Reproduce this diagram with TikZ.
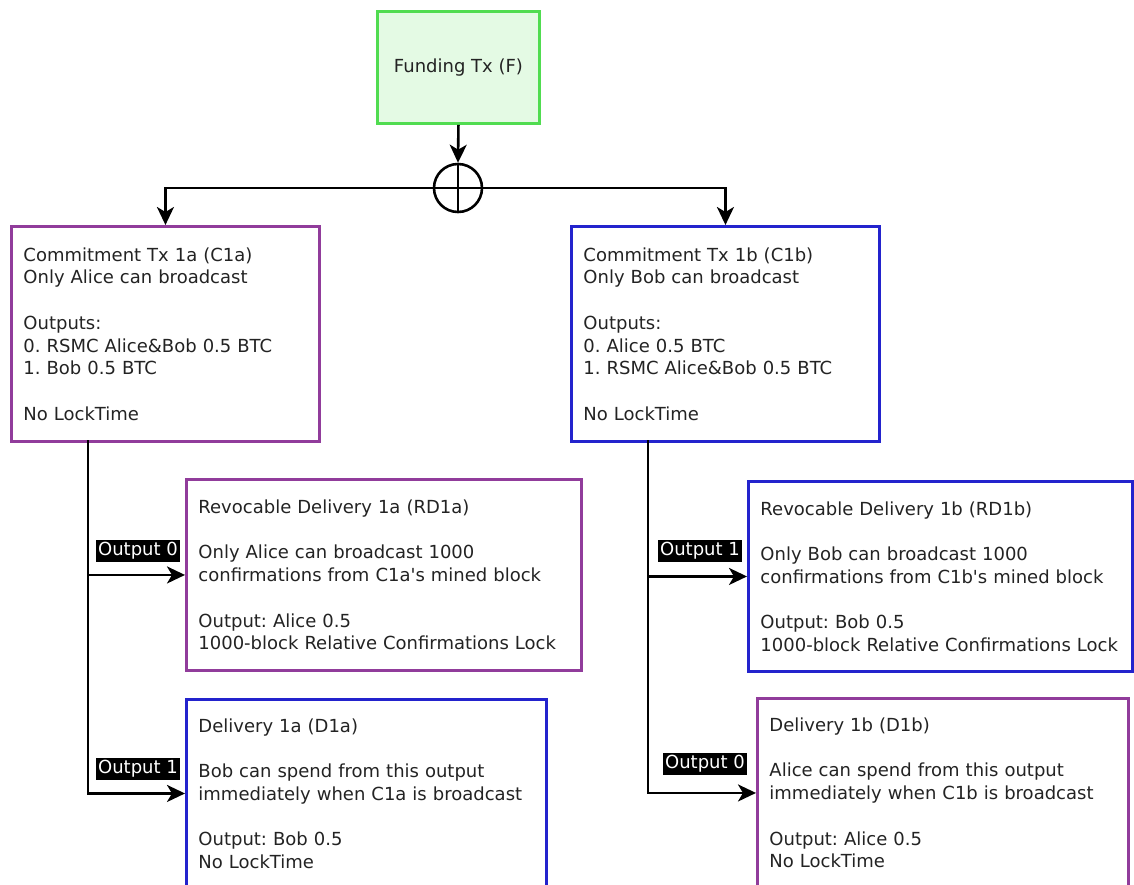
\documentclass[tikz,border=0pt]{standalone}
\usepackage{fontspec}
\setmainfont{DejaVu Sans}[Ligatures=TeXOff]
\usetikzlibrary{arrows.meta}
\definecolor{boxpurple}{RGB}{145,60,155}
\definecolor{boxblue}{RGB}{35,35,205}
\definecolor{fundgreen}{RGB}{80,220,80}
\definecolor{fundfill}{RGB}{228,250,228}
\definecolor{inkgray}{RGB}{35,35,35}
\frenchspacing
\begin{document}
\begin{tikzpicture}[x=1pt,y=-1pt,
  txfont/.style={font=\fontsize{18}{22.7}\selectfont\frenchspacing},
  txbox/.style={txfont,draw,line width=2.9pt,anchor=north west,align=left,
    inner xsep=12pt,inner ysep=4pt,text=inkgray,fill=white},
  purplebox/.style={txbox,draw=boxpurple},
  bluebox/.style={txbox,draw=boxblue},
  outlabel/.style={txfont,fill=black,text=white,inner xsep=2pt,inner ysep=2pt},
  conn/.style={line width=2.6pt,-{Stealth[length=18pt,width=17pt,inset=5pt]}},
  plainconn/.style={line width=2.6pt}]
\useasboundingbox (0,0) rectangle (1134,884);
\fill[white] (0,0) rectangle (1134,884);

% funding transaction and the 2-of-2 split
\node[txfont,draw=fundgreen,fill=fundfill,line width=2.9pt,text=inkgray,
  minimum width=162pt,minimum height=112pt,anchor=north west] (F) at (376,10) {Funding Tx (F)};
\node[circle,draw,line width=2.6pt,minimum size=48pt,inner sep=0pt] (X) at (458,188) {};

% commitment transactions
\node[purplebox,text width=284pt,minimum width=308pt,minimum height=215pt] (C1a) at (10,225)
 {Commitment Tx 1a (C1a)\\Only Alice can broadcast\\ \mbox{}\\Outputs:\\0. RSMC Alice\&Bob 0.5 BTC\\1. Bob 0.5 BTC\\ \mbox{}\\No LockTime};
\node[bluebox,text width=284pt,minimum width=308pt,minimum height=215pt] (C1b) at (570,225)
 {Commitment Tx 1b (C1b)\\Only Bob can broadcast\\ \mbox{}\\Outputs:\\0. Alice 0.5 BTC\\1. RSMC Alice\&Bob 0.5 BTC\\ \mbox{}\\No LockTime};

% second-stage transactions
\node[purplebox,text width=371pt,minimum width=395pt,minimum height=191pt] (RD1a) at (185,478)
 {Revocable Delivery 1a (RD1a)\\ \mbox{}\\Only Alice can broadcast 1000\\confirmations from C1a's mined block\\ \mbox{}\\Output: Alice 0.5\\1000-block Relative Confirmations Lock};
\node[bluebox,text width=360pt,minimum width=384pt,minimum height=190pt] (RD1b) at (747,480)
 {Revocable Delivery 1b (RD1b)\\ \mbox{}\\Only Bob can broadcast 1000\\confirmations from C1b's mined block\\ \mbox{}\\Output: Bob 0.5\\1000-block Relative Confirmations Lock};
\node[bluebox,text width=336pt,minimum width=360pt,minimum height=188pt] (D1a) at (185,698)
 {Delivery 1a (D1a)\\ \mbox{}\\Bob can spend from this output\\immediately when C1a is broadcast\\ \mbox{}\\Output: Bob 0.5\\No LockTime};
\node[purplebox,text width=347pt,minimum width=371pt,minimum height=189pt] (D1b) at (756,697)
 {Delivery 1b (D1b)\\ \mbox{}\\Alice can spend from this output\\immediately when C1b is broadcast\\ \mbox{}\\Output: Alice 0.5\\No LockTime};

% connectors from the funding output
\draw[conn] (F.south) -- (X.north);
\draw[plainconn] (X.north) -- (X.south);
\draw[plainconn] (X.west) -- (X.east);
\draw[conn] (X.west) -| (C1a.north);
\draw[conn] (X.east) -| (C1b.north);

% outputs of the commitment transactions
\coordinate (tapA) at (88,440);
\coordinate (tapB) at (648,440);
\draw[conn] (tapA) |- (RD1a.west);
\draw[conn] (tapA) |- (D1a.west);
\draw[conn] (tapB) |- (RD1b.west);
\draw[conn] (tapB) |- (D1b.west);

\node[outlabel] (oA0) at (138,551) {Output 0};
\node[outlabel] (oA1) at (138,769) {Output 1};
\node[outlabel] (oB1) at (700,551) {Output 1};
\node[outlabel] (oB0) at (705,764) {Output 0};
\end{tikzpicture}
\end{document}
